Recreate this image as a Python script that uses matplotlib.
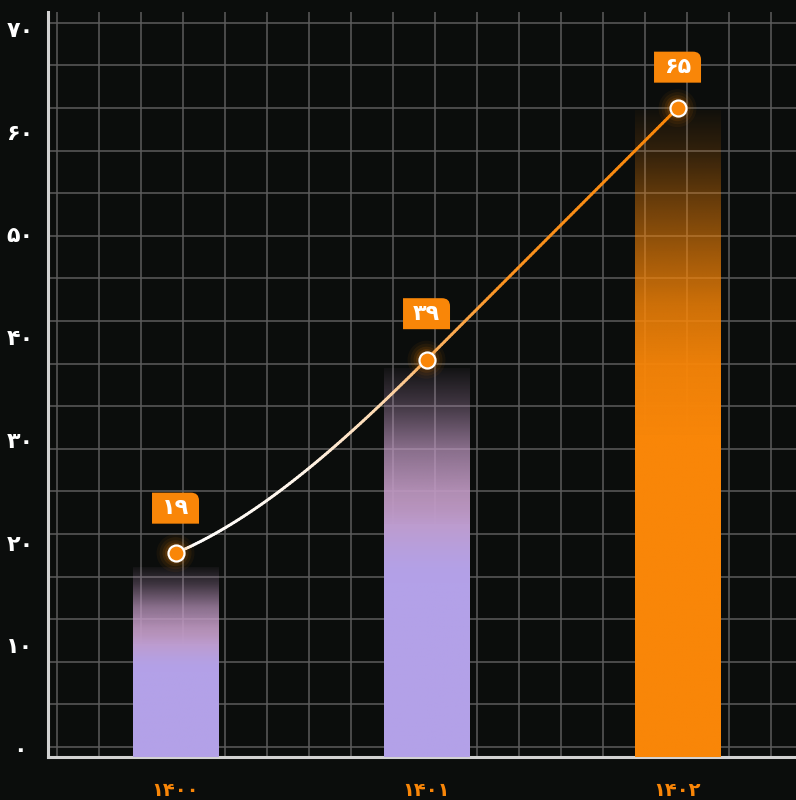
import numpy as np
import matplotlib
matplotlib.use('Agg')
import matplotlib.pyplot as plt
from matplotlib.collections import LineCollection
from matplotlib.path import Path
from matplotlib.patches import PathPatch
from matplotlib.lines import Line2D
import matplotlib.transforms as mtransforms
from matplotlib.colors import to_rgb

plt.rcParams['font.family'] = ['DejaVu Sans']

# ---------------- data ----------------
years = ['۱۴۰۰', '۱۴۰۱', '۱۴۰۲']
values = [19, 39, 65]
value_labels = ['۱۹', '۳۹', '۶۵']
ytick_values = [0, 10, 20, 30, 40, 50, 60, 70]
ytick_labels = ['۰', '۱۰', '۲۰', '۳۰', '۴۰', '۵۰', '۶۰', '۷۰']

# ---------------- style ----------------
BG = '#0b0d0c'
ORANGE = '#f98608'
LAVENDER = '#b3a1e8'
PINK = '#c19ac4'
GRID = '#5c5c5c'
SPINE = '#d2d2d2'
bar_kinds = ['lav', 'lav', 'orange']
label_offsets_px = [45, 46, 41]

W, H = 796, 800
fig = plt.figure(figsize=(W / 100, H / 100), dpi=100)
fig.patch.set_facecolor(BG)
rect = [48 / W, 43 / H, (W - 48) / W, 745 / H]
ax_bg = fig.add_axes(rect, zorder=0)
ax = fig.add_axes(rect, zorder=1, sharex=ax_bg)
ax_line = fig.add_axes(rect, zorder=2, sharex=ax_bg)

x = np.arange(len(years))
xlim = (-0.508, 2.472)

# ---- background axes: grid, spines, tick labels ----
ax_bg.set_facecolor(BG)
ax_bg.set_xlim(*xlim)
ax_bg.set_ylim(-0.876, 71.66)
for k in range(18):
    xf = (9 + 42 * k) / 748
    ax_bg.add_line(Line2D([xf, xf], [0, 1], transform=ax_bg.transAxes,
                          color=GRID, lw=1.1, zorder=1))
    yf = (757 - 22.7 - 42.6 * k) / 745
    ax_bg.add_line(Line2D([0, 1], [yf, yf], transform=ax_bg.transAxes,
                          color=GRID, lw=1.1, zorder=1))
for s in ['top', 'right']:
    ax_bg.spines[s].set_visible(False)
for s in ['left', 'bottom']:
    ax_bg.spines[s].set_color(SPINE)
    ax_bg.spines[s].set_linewidth(2.2)
ax_bg.set_yticks(ytick_values)
ax_bg.set_yticklabels(ytick_labels, color='white', fontsize=16,
                      fontweight='bold', ha='center')
ax_bg.set_xticks(x)
ax_bg.set_xticklabels(years, color=ORANGE, fontsize=14, fontweight='bold',
                      va='center')
ax_bg.tick_params(axis='y', length=0, pad=20.2)
ax_bg.tick_params(axis='x', length=0, pad=23.8)

# ---- bars with vertical gradient ----
ax.set_xlim(*xlim)
ax.set_ylim(0, 74.87)
ax.axis('off')
bar_w = 0.34
bars = ax.bar(x, values, width=bar_w, color='none', edgecolor='none')
N = 300
f = np.linspace(0, 1, N)


def smooth(a, b, t):
    u = np.clip((t - a) / (b - a), 0, 1)
    return u * u * (3 - 2 * u)


for b, kind in zip(bars, bar_kinds):
    img = np.zeros((N, 1, 4))
    if kind == 'lav':
        c1 = np.array(to_rgb(LAVENDER))
        c2 = np.array(to_rgb(PINK))
        mix = smooth(0.45, 0.68, f)[:, None]
        col = c1 * (1 - mix) + c2 * mix
        alpha = np.interp(f, [0, 0.6, 0.68, 0.79, 0.91, 1.0],
                          [1, 1, 0.92, 0.7, 0.29, 0.05])
    else:
        col = np.tile(np.array(to_rgb(ORANGE)), (N, 1))
        alpha = np.interp(f, [0, 0.5, 0.6, 0.7, 0.77, 0.86, 0.94, 1.0],
                          [1, 1, 0.96, 0.82, 0.65, 0.4, 0.16, 0.03])
    img[:, 0, :3] = col
    img[:, 0, 3] = alpha
    x0, y0, w, h = b.get_x(), b.get_y(), b.get_width(), b.get_height()
    ax.imshow(img, extent=(x0, x0 + w, y0, y0 + h), origin='lower',
              aspect='auto', interpolation='bilinear', zorder=2)
ax.set_xlim(*xlim)
ax.set_ylim(0, 74.87)

# ---- line with gradient ----
ax_line.set_xlim(*xlim)
ax_line.set_ylim(-2.07, 74.94)
ax_line.axis('off')
ys = np.array(values, float)
m = np.array([11.0, 26.0, 26.0])
cx, cy = [], []
for i in range(len(x) - 1):
    t = np.linspace(0, 1, 100)
    h00 = 2 * t**3 - 3 * t**2 + 1
    h10 = t**3 - 2 * t**2 + t
    h01 = -2 * t**3 + 3 * t**2
    h11 = t**3 - t**2
    yy = h00 * ys[i] + h10 * m[i] + h01 * ys[i + 1] + h11 * m[i + 1]
    xx = x[i] + t
    if i > 0:
        xx, yy = xx[1:], yy[1:]
    cx.extend(xx)
    cy.extend(yy)
cx, cy = np.array(cx), np.array(cy)
pts = np.column_stack([cx, cy]).reshape(-1, 1, 2)
segs = np.concatenate([pts[:-1], pts[1:]], axis=1)
xm = (cx[:-1] + cx[1:]) / 2
tm = np.interp(xm, [0, 0.5, 0.85, 1.0, 1.3, 2.0], [0, 0.08, 0.35, 0.6, 0.9, 1.0])
white = np.array([1.0, 1.0, 1.0])
orng = np.array(to_rgb(ORANGE))
cols = white[None, :] * (1 - tm[:, None]) + orng[None, :] * tm[:, None]
lc = LineCollection(segs, colors=cols, linewidths=2.1, capstyle='round', zorder=3)
ax_line.add_collection(lc)

# glow + markers
for d, a in [(38, 0.05), (32, 0.07), (26, 0.10), (21, 0.15)]:
    ax_line.scatter(x, values, s=(d * 0.72) ** 2, color=ORANGE, alpha=a,
                    edgecolors='none', zorder=4)
ax_line.scatter(x, values, s=(16 * 0.72) ** 2, facecolor=ORANGE,
                edgecolor='white', linewidths=1.6, zorder=5)

# value label boxes (top-right corner rounded)
bw, bh, r = 0.47, 0.31, 0.08
for xi, yi, lab, offp in zip(x, values, value_labels, label_offsets_px):
    off = offp / 100
    verts = [(-bw / 2, off - bh / 2), (bw / 2, off - bh / 2), (bw / 2, off + bh / 2 - r),
             (bw / 2, off + bh / 2), (bw / 2 - r, off + bh / 2), (-bw / 2, off + bh / 2),
             (-bw / 2, off - bh / 2)]
    codes = [Path.MOVETO, Path.LINETO, Path.LINETO, Path.CURVE3, Path.CURVE3,
             Path.LINETO, Path.CLOSEPOLY]
    tr = fig.dpi_scale_trans + mtransforms.ScaledTranslation(xi, yi, ax_line.transData)
    ax_line.add_patch(PathPatch(Path(verts, codes), transform=tr, facecolor=ORANGE,
                                edgecolor='none', zorder=6, clip_on=False))
    ax_line.annotate(lab, xy=(xi, yi), xytext=(0, off * 72), textcoords='offset points',
                     ha='center', va='center', color='white', fontsize=16,
                     fontweight='bold', zorder=7)

fig.savefig('out.png', dpi=100, facecolor=BG)
